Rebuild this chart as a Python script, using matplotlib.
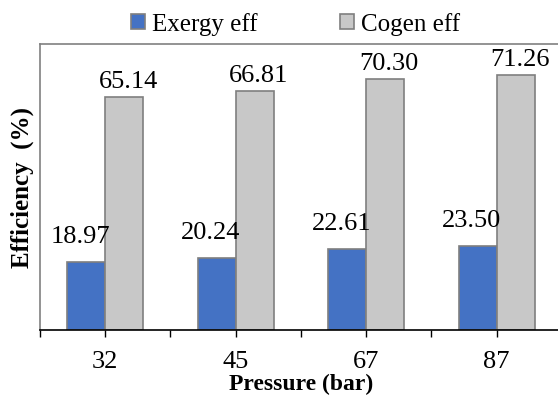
import matplotlib.pyplot as plt
import numpy as np

# data
pressures = ['32', '45', '67', '87']
exergy_eff = [18.97, 20.24, 22.61, 23.50]
cogen_eff = [65.14, 66.81, 70.30, 71.26]

plt.rcParams['font.family'] = ['Liberation Serif', 'DejaVu Serif']

fig = plt.figure(figsize=(5.58, 3.99), dpi=100)
ax = fig.add_axes([40/558, 1-330/399, 522/558, 286/399])

x = np.arange(len(pressures))
w = 0.29
b1 = ax.bar(x - w/2, exergy_eff, w, color='#4472C4', edgecolor='#7f7f7f', linewidth=1.2, label='Exergy eff')
b2 = ax.bar(x + w/2, cogen_eff, w, color='#C8C8C8', edgecolor='#7f7f7f', linewidth=1.2, label='Cogen eff')

for xi, v in zip(x, exergy_eff):
    ax.annotate('%.2f' % v, (xi - w/2, v), xytext=(-4.3, 13.7), textcoords='offset points',
                ha='center', va='baseline', fontsize=19)
for xi, v in zip(x, cogen_eff):
    ax.annotate('%.2f' % v, (xi + w/2, v), xytext=(3, 6.5), textcoords='offset points',
                ha='center', va='baseline', fontsize=19)

ax.set_xlim(-0.5, 3.5)
ax.set_ylim(0, 80)
ax.set_xticks(x)
ax.set_xticklabels(pressures, fontsize=19)
ax.set_xticks(np.arange(-0.5, 4, 1), minor=True)
ax.tick_params(axis='x', which='both', direction='out', length=5, width=1, color='black', pad=10)
ax.set_yticks([])

for s in ['left', 'top', 'right']:
    ax.spines[s].set_color('#808080')
    ax.spines[s].set_linewidth(1.2)
ax.spines['bottom'].set_color('black')
ax.spines['bottom'].set_linewidth(1.2)

ax.set_xlabel('Pressure (bar)', fontsize=17, fontweight='bold', labelpad=1)
ax.set_ylabel('Efficiency  (%)', fontsize=18, fontweight='bold', labelpad=4)

fig.legend(loc='upper center', bbox_to_anchor=(0.53, 1.025), ncol=2, frameon=False,
           fontsize=18, handlelength=0.55, handleheight=0.55, handletextpad=0.3, columnspacing=3.3)

fig.savefig('out.png', dpi=100)
